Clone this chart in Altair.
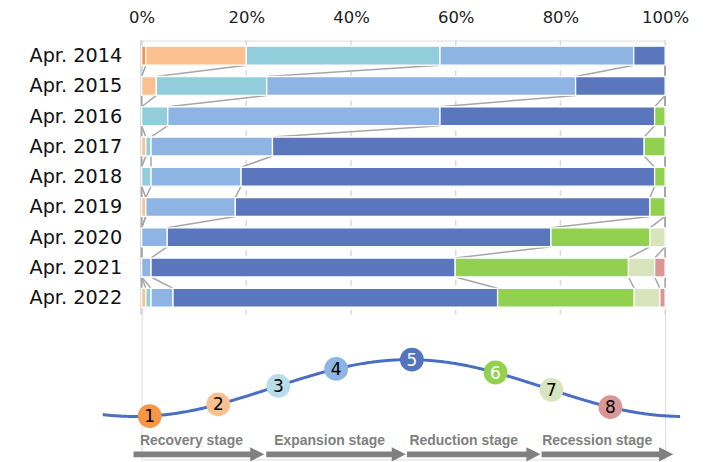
import altair as alt
import pandas as pd
import numpy as np

# ---------------- data ----------------
years = ["Apr. 2014", "Apr. 2015", "Apr. 2016", "Apr. 2017", "Apr. 2018",
         "Apr. 2019", "Apr. 2020", "Apr. 2021", "Apr. 2022"]
stage_ids = [1, 2, 3, 4, 5, 6, 7, 8]
stage1 = [0.8, 0, 0, 0, 0, 0, 0, 0, 0]
stage2 = [19.2, 2.8, 0, 0.8, 0, 0.8, 0, 0, 0.8]
stage3 = [37.0, 21.1, 5.0, 1.0, 1.8, 0, 0, 0, 1.0]
stage4 = [37.0, 59.0, 52.0, 23.2, 17.2, 17.1, 4.9, 1.8, 4.2]
stage5 = [6.0, 17.1, 41.0, 71.0, 79.0, 79.2, 73.3, 58.1, 62.0]
stage6 = [0, 0, 2.0, 4.0, 2.0, 2.9, 18.9, 33.1, 26.1]
stage7 = [0, 0, 0, 0, 0, 0, 2.9, 5.0, 4.9]
stage8 = [0, 0, 0, 0, 0, 0, 0, 2.0, 1.0]
tick_values = [0, 20, 40, 60, 80, 100]

stage_names = ["Recovery stage", "Expansion stage", "Reduction stage", "Recession stage"]
circle_phase = [0.055, 0.305, 0.524, 0.735, 1.011, 1.316, 1.52, 1.735]
label_phase = [0.207, 0.711, 1.20, 1.687]
arrow_start = [-0.004, 0.48, 0.993, 1.484]
arrow_end = [0.473, 0.989, 1.48, 1.964]

bar_colors = ["#F79646", "#FAC090", "#92CDDC", "#8EB4E3", "#5A76BC", "#92D050", "#D8E4BC", "#DA9694"]
circle_colors = ["#F79646", "#FAC090", "#B7DDE8", "#8DB4E2", "#5574BE", "#92D050", "#D7E4BD", "#DA9694"]
number_colors = ["#000000", "#000000", "#000000", "#000000", "#FFFFFF", "#FFFFFF", "#000000", "#000000"]

# ---------------- tables ----------------
series = [stage1, stage2, stage3, stage4, stage5, stage6, stage7, stage8]
vals = np.array(series).T  # rows = years
cum = np.cumsum(vals, axis=1)
rows = []
for i in range(len(years)):
    for k, s in enumerate(stage_ids):
        rows.append({"row": i, "year": years[i], "stage": s, "value": vals[i, k],
                     "start": cum[i, k] - vals[i, k], "end": cum[i, k]})
bars_df = pd.DataFrame(rows)
bars_df = bars_df[bars_df["value"] > 0]

conn = []
for i in range(len(years) - 1):
    for k, s in enumerate(stage_ids):
        conn.append({"row": i, "stage": s, "x0": cum[i, k], "x1": cum[i + 1, k]})
conn_df = pd.DataFrame(conn)

grid_df = pd.DataFrame({"pct": tick_values[1:]})

H = 420
W = 525
HALF = 0.313  # half bar thickness in row units

label_expr = "[" + ",".join("'%s'" % y for y in years) + "][datum.value]"

xscale = alt.Scale(domain=[0, 100], nice=False, zero=False, padding=0)
yscale = alt.Scale(domain=[-0.5, 13.339], reverse=True, nice=False, zero=False, padding=0)
xaxis = alt.Axis(orient="top", values=tick_values, labelExpr="datum.value + '%'",
                 domain=False, ticks=False, tickSize=0, grid=False, title=None,
                 labelFont="DejaVu Sans", labelFontSize=16.5, labelColor="#222222",
                 labelPadding=15, labelFlush=False, labelOverlap=False)
yaxis = alt.Axis(values=list(range(len(years))), labelExpr=label_expr,
                 domain=False, ticks=False, tickSize=0, grid=False, title=None,
                 labelFont="DejaVu Sans", labelFontSize=19.3, labelColor="#111111",
                 labelPadding=20, labelFlush=False, labelOverlap=False)

grid = alt.Chart(grid_df).mark_rule(color="#D9D9D9", strokeWidth=1.5, strokeDash=[6, 4]).encode(
    x=alt.X("pct:Q", scale=xscale, axis=xaxis),
    y=alt.datum(-0.5, scale=yscale, axis=yaxis),
    y2=alt.datum(8.55),
)
zero_line = alt.Chart(grid_df).mark_rule(color="#D9D9D9", strokeWidth=2).encode(
    x=alt.datum(0, scale=xscale, axis=xaxis),
    y=alt.datum(-0.5, scale=yscale, axis=yaxis),
    y2=alt.datum(8.55),
)
connectors = alt.Chart(conn_df).transform_calculate(
    y0=f"datum.row + {HALF}", y1=f"datum.row + 1 - {HALF}"
).mark_rule(color="#A6A6A6", strokeWidth=1.5).encode(
    x=alt.X("x0:Q", scale=xscale, axis=xaxis),
    x2="x1:Q",
    y=alt.Y("y0:Q", scale=yscale, axis=yaxis),
    y2="y1:Q",
)
bars = alt.Chart(bars_df).mark_bar(orient="horizontal", size=19, stroke="white", strokeWidth=1.3).encode(
    x=alt.X("start:Q", scale=xscale, axis=xaxis),
    x2="end:Q",
    y=alt.Y("row:Q", scale=yscale, axis=yaxis),
    color=alt.Color("stage:N", scale=alt.Scale(domain=stage_ids, range=bar_colors), legend=None),
)
bar_group = alt.layer(grid, zero_line, connectors, bars)

# ---------------- cycle diagram ----------------
ux = alt.Scale(domain=[0.02545, 1.9345], nice=False, zero=False, padding=0)
hy = alt.Scale(domain=[-2.509, 12.228], nice=False, zero=False, padding=0)

curve = alt.Chart(alt.sequence(-0.116, 1.99, 0.005, as_="u")).transform_calculate(
    h="-cos(PI * datum.u)"
).mark_line(color="#4A6EC0", strokeWidth=3).encode(
    x=alt.X("u:Q", scale=ux, axis=None),
    y=alt.Y("h:Q", scale=hy, axis=None),
)

arrows_df = pd.DataFrame({"s": arrow_start, "e": arrow_end, "name": stage_names, "lu": label_phase})
shafts = alt.Chart(arrows_df).transform_calculate(e2="datum.e - 0.036").mark_rule(
    color="#808080", strokeWidth=6
).encode(
    x=alt.X("s:Q", scale=ux, axis=None), x2="e2:Q", y=alt.value(415)
)
heads = alt.Chart(arrows_df).mark_point(
    shape="M -2 -1 L 0 0 L -2 1 Z", filled=True, color="#808080", opacity=1, size=200
).encode(
    x=alt.X("e:Q", scale=ux, axis=None), y=alt.value(415)
)
labels = alt.Chart(arrows_df).mark_text(
    font="Liberation Sans", fontWeight="bold", fontSize=14, color="#7F7F7F", baseline="alphabetic"
).encode(
    x=alt.X("lu:Q", scale=ux, axis=None), y=alt.value(406), text="name:N"
)

circ_df = pd.DataFrame({"stage": stage_ids, "u": circle_phase})
circ_base = alt.Chart(circ_df).transform_calculate(h="-cos(PI * datum.u)")
circles = circ_base.mark_circle(size=570, opacity=1).encode(
    x=alt.X("u:Q", scale=ux, axis=None),
    y=alt.Y("h:Q", scale=hy, axis=None),
    color=alt.Color("stage:N", scale=alt.Scale(domain=stage_ids, range=circle_colors), legend=None),
)
numbers = circ_base.mark_text(font="DejaVu Sans", fontSize=17, baseline="middle", dy=1).encode(
    x=alt.X("u:Q", scale=ux, axis=None),
    y=alt.Y("h:Q", scale=hy, axis=None),
    text="stage:N",
    color=alt.Color("stage:N", scale=alt.Scale(domain=stage_ids, range=number_colors), legend=None),
)
diagram = alt.layer(curve, shafts, heads, labels, circles, numbers).resolve_scale(color="independent")

chart = alt.layer(bar_group, diagram).resolve_scale(
    x="independent", y="independent", color="independent"
).properties(
    width=W, height=H,
    autosize=alt.AutoSizeParams(type="none"),
    padding={"left": 134, "top": 32, "right": 40, "bottom": 2},
).configure_view(stroke=None).configure(background="white")

chart.save("out.html", embed_options={"renderer": "svg", "actions": False})
